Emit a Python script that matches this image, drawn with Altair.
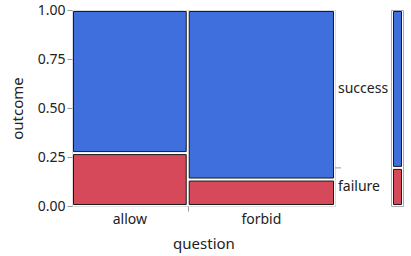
import altair as alt
import pandas as pd

questions = ["allow", "forbid"]
question_share = [0.44, 0.56]
failure_rate = [0.27, 0.135]
outcomes = ["failure", "success"]
colors = ["#D5495A", "#3F6FDC"]

W, H = 263, 196
FONT = "Noto Sans"
LFS = 14
TFS = 15

# build mosaic cells
cells = []
qrows = []
x0 = 0.0
for q, s, f in zip(questions, question_share, failure_rate):
    x1 = x0 + s
    cells.append({"question": q, "outcome": "failure", "x0": x0, "x1": x1, "y0": 0.0, "y1": f})
    cells.append({"question": q, "outcome": "success", "x0": x0, "x1": x1, "y0": f, "y1": 1.0})
    qrows.append({"question": q, "xc": (x0 + x1) / 2, "x1": x1})
    x0 = x1
cells = pd.DataFrame(cells)
qdf = pd.DataFrame(qrows)
boundaries = list(qdf["x1"][:-1])

overall_fail = sum(s * f for s, f in zip(question_share, failure_rate))
marg = pd.DataFrame({
    "outcome": outcomes,
    "y0": [0.0, overall_fail],
    "y1": [overall_fail, 1.0],
})
marg["ym"] = (marg["y0"] + marg["y1"]) / 2

xscale = alt.Scale(domain=[0, 1], nice=False)
yscale = alt.Scale(domain=[0, 1], nice=False)
cscale = alt.Scale(domain=outcomes, range=colors)

main = alt.Chart(cells).mark_rect(
    stroke="#1a1a1a", strokeWidth=1,
    xOffset=1.5, x2Offset=-1.5, yOffset=-1.5, y2Offset=1.5,
).encode(
    x=alt.X("x0:Q", scale=xscale, axis=alt.Axis(
        values=boundaries, labels=False, title="question", tickColor="#999",
        tickSize=5, domain=False, titlePadding=25, titleFont=FONT,
        titleFontSize=TFS, titleFontWeight="normal", titleColor="#222", grid=False)),
    x2="x1:Q",
    y=alt.Y("y0:Q", scale=yscale, axis=alt.Axis(
        values=[0, 0.25, 0.5, 0.75, 1.0], format=".2f", title="outcome",
        labelFont=FONT, labelFontSize=LFS, labelColor="#222", tickColor="#999",
        tickSize=5, domain=False, grid=False, titleFont=FONT, titleFontSize=TFS,
        titleFontWeight="normal", titleColor="#222", titlePadding=12)),
    y2="y1:Q",
    color=alt.Color("outcome:N", scale=cscale, legend=None),
)

xlabels = alt.Chart(qdf).mark_text(
    font=FONT, fontSize=LFS, color="#222", baseline="middle"
).encode(
    x=alt.X("xc:Q", scale=xscale),
    y=alt.value(H + 14),
    text="question:N",
)

rlabels = alt.Chart(marg).mark_text(
    font=FONT, fontSize=LFS, color="#222", align="left", baseline="middle"
).encode(
    x=alt.value(W + 3),
    y=alt.Y("ym:Q", scale=yscale),
    text="outcome:N",
)

rtick = alt.Chart(marg.iloc[[0]]).mark_rule(color="#999").encode(
    x=alt.value(W), x2=alt.value(W + 6),
    y=alt.Y("y1:Q", scale=yscale),
)

mframe = alt.Chart(marg.iloc[[0]]).mark_rect(
    fill="white", stroke="#aaa", strokeWidth=1
).encode(
    x=alt.value(W + 56.5), x2=alt.value(W + 68.5),
    y=alt.value(0.5), y2=alt.value(H + 0.5),
)

mbar = alt.Chart(marg).mark_rect(
    stroke="#1a1a1a", strokeWidth=1, yOffset=-1.5, y2Offset=1.5,
).encode(
    x=alt.value(W + 58.5), x2=alt.value(W + 66.5),
    y=alt.Y("y0:Q", scale=yscale), y2="y1:Q",
    color=alt.Color("outcome:N", scale=cscale, legend=None),
)

chart = alt.layer(main, xlabels, rlabels, rtick, mframe, mbar).properties(
    width=W, height=H,
    autosize=alt.AutoSizeParams(type="none"),
    padding={"left": 72, "top": 10, "right": 76, "bottom": 50},
).configure_view(stroke="#999", strokeWidth=1.5).configure(background="white")

chart.save("out.html", embed_options={"renderer": "svg", "actions": False})
